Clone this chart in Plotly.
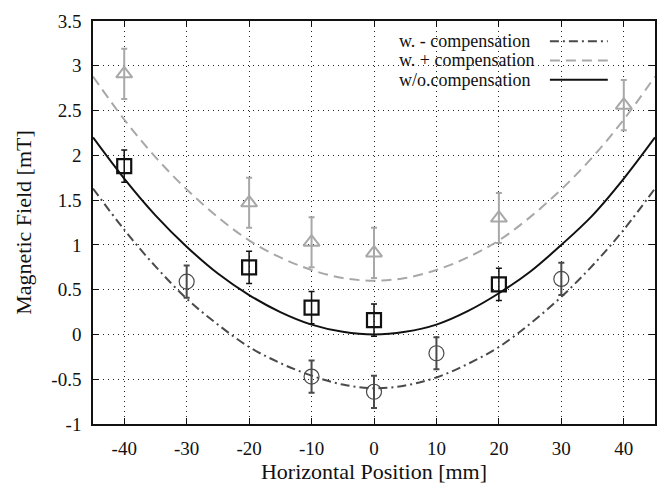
import plotly.graph_objects as go

# measured points
x_minus = [-30, -10, 0, 10, 30]
y_minus = [0.59, -0.47, -0.64, -0.21, 0.62]
e_minus = [0.18, 0.18, 0.18, 0.18, 0.18]

x_plus = [-40, -20, -10, 0, 20, 40]
y_plus = [2.91, 1.47, 1.03, 0.91, 1.30, 2.56]
e_plus = [0.28, 0.28, 0.28, 0.28, 0.28, 0.28]

x_wo = [-40, -20, -10, 0, 20]
y_wo = [1.88, 0.75, 0.30, 0.16, 0.56]
e_wo = [0.18, 0.18, 0.18, 0.18, 0.18]

# fitted curves
x_fit = [-45, -40, -35, -30, -25, -20, -15, -10, -5, 0, 5, 10, 15, 20, 25, 30, 35, 40, 45]
fit_minus = [1.63, 1.17, 0.76, 0.40, 0.11, -0.14, -0.32, -0.46, -0.56, -0.60, -0.57, -0.48, -0.33, -0.14, 0.12, 0.42, 0.77, 1.17, 1.63]
fit_plus = [2.88, 2.40, 1.98, 1.62, 1.31, 1.05, 0.86, 0.72, 0.63, 0.60, 0.63, 0.72, 0.86, 1.05, 1.31, 1.62, 1.98, 2.40, 2.88]
fit_wo = [2.20, 1.74, 1.33, 0.98, 0.68, 0.44, 0.25, 0.11, 0.03, 0.00, 0.03, 0.11, 0.26, 0.46, 0.70, 1.00, 1.33, 1.74, 2.20]

x_ticks = [-40, -30, -20, -10, 0, 10, 20, 30, 40]
x_labels = ["-40", "-30", "-20", "-10", "0", "10", "20", "30", "40"]
y_ticks = [-1, -0.5, 0, 0.5, 1, 1.5, 2, 2.5, 3, 3.5]
y_labels = ["-1", "-0.5", "0", "0.5", "1", "1.5", "2", "2.5", "3", "3.5"]

legend_names = ["w. - compensation", "w. + compensation", "w/o.compensation"]

C_MINUS = "#4a4a4a"
C_PLUS = "#a8a8a8"
C_WO = "#111111"
FONT = "Liberation Serif"
DASHDOT = "9px,4px,2px,4px"
DASH = "10px,6px"

fig = go.Figure()

fig.add_trace(go.Scatter(x=x_fit, y=fit_minus, mode="lines", line=dict(color=C_MINUS, width=2, dash=DASHDOT, shape="spline"), showlegend=False))
fig.add_trace(go.Scatter(x=x_fit, y=fit_plus, mode="lines", line=dict(color=C_PLUS, width=2, dash=DASH, shape="spline"), showlegend=False))
fig.add_trace(go.Scatter(x=x_fit, y=fit_wo, mode="lines", line=dict(color=C_WO, width=2, shape="spline"), showlegend=False))

fig.add_trace(go.Scatter(x=x_minus, y=y_minus, mode="markers",
                         marker=dict(symbol="circle-open", size=15, color=C_MINUS, line=dict(width=1.2)),
                         error_y=dict(type="data", array=e_minus, color=C_MINUS, thickness=2, width=3),
                         showlegend=False))
fig.add_trace(go.Scatter(x=x_plus, y=y_plus, mode="markers",
                         marker=dict(symbol="triangle-up-open", size=14, color=C_PLUS, line=dict(width=2)),
                         error_y=dict(type="data", array=e_plus, color=C_PLUS, thickness=2, width=3),
                         showlegend=False))
fig.add_trace(go.Scatter(x=x_wo, y=y_wo, mode="markers",
                         marker=dict(symbol="square-open", size=14, color=C_WO, line=dict(width=2.2)),
                         error_y=dict(type="data", array=e_wo, color=C_WO, thickness=1.5, width=3),
                         showlegend=False))

# manual legend (text left, line sample right)
leg_y = [0.950, 0.902, 0.854]
leg_styles = [(C_MINUS, DASHDOT), (C_PLUS, DASH), (C_WO, "solid")]
for name, yy, (col, dsh) in zip(legend_names, leg_y, leg_styles):
    fig.add_annotation(x=0.541, y=yy, xref="paper", yref="paper", text=name, showarrow=False,
                       xanchor="left", yanchor="middle",
                       font=dict(family=FONT, size=18, color="#111"))
    fig.add_shape(type="line", xref="paper", yref="paper", x0=0.813, x1=0.916, y0=yy, y1=yy,
                  line=dict(color=col, width=2, dash=dsh))

axis_common = dict(
    showline=True, linecolor="#111", linewidth=1.5, mirror="ticks",
    ticks="inside", ticklen=6, tickcolor="#111", tickwidth=1,
    showgrid=True, gridcolor="#222", gridwidth=1, griddash="1px,4px",
    zeroline=False, automargin=False,
    tickfont=dict(family=FONT, size=19, color="#111"),
)

fig.update_xaxes(range=[-45, 45], tickvals=x_ticks, ticktext=x_labels, ticklabelstandoff=6,
                 title=dict(text="Horizontal Position [mm]", font=dict(family=FONT, size=22, color="#111"), standoff=6),
                 **axis_common)
fig.update_yaxes(range=[-1, 3.5], tickvals=y_ticks, ticktext=y_labels, ticklabelstandoff=6,
                 title=dict(text="Magnetic Field [mT]", font=dict(family=FONT, size=22, color="#111"), standoff=14),
                 **axis_common)

fig.update_layout(width=665, height=485, margin=dict(l=93, r=10, t=21, b=61),
                  plot_bgcolor="white", paper_bgcolor="white", font=dict(family=FONT))

fig.write_html("out.html")
